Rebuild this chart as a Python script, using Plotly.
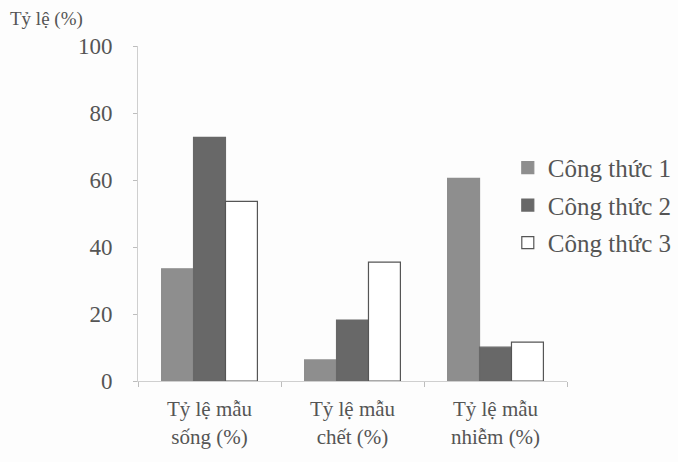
import plotly.graph_objects as go

# Categories (two-line labels) and series values, in %
categories = ["Tỷ lệ mẫu<br>sống (%)", "Tỷ lệ mẫu<br>chết (%)", "Tỷ lệ mẫu<br>nhiễm (%)"]
series_names = ["Công thức 1", "Công thức 2", "Công thức 3"]
cong_thuc_1 = [33.5, 6.3, 60.5]
cong_thuc_2 = [72.7, 18.2, 10.1]
cong_thuc_3 = [53.6, 35.5, 11.6]
y_ticks = [0, 20, 40, 60, 80, 100]

fills = ["#8e8e8e", "#686868", "#ffffff"]
outlines = ["#8e8e8e", "#686868", "#555555"]
text_color = "#555555"
serif = "Liberation Serif, Times New Roman, serif"

fig = go.Figure()
for i, (name, vals) in enumerate(zip(series_names, [cong_thuc_1, cong_thuc_2, cong_thuc_3])):
    fig.add_trace(go.Bar(
        x=categories, y=vals, name=name,
        legendgroup=f"g{i}",
        marker=dict(color=fills[i], line=dict(color=outlines[i], width=1.2)),
    ))

fig.update_layout(
    width=678, height=462,
    margin=dict(l=138, r=111, t=46, b=81, autoexpand=False),
    paper_bgcolor="#fdfdfd", plot_bgcolor="#fdfdfd",
    barmode="group", bargap=0.33, bargroupgap=0,
    font=dict(family=serif, size=20, color=text_color),
    showlegend=True,
    legend=dict(
        x=0.862, y=0.705, xanchor="left", yanchor="top",
        bgcolor="rgba(0,0,0,0)", tracegroupgap=2,
        font=dict(family=serif, size=25, color=text_color),
    ),
    xaxis=dict(
        showline=True, linecolor="#cfcfcf", linewidth=1,
        ticks="outside", tickson="boundaries", ticklen=5, tickcolor="#bdbdbd",
        ticklabelstandoff=9,
        tickfont=dict(family=serif, size=21, color=text_color),
        showgrid=False,
    ),
    yaxis=dict(
        range=[0, 100], tickvals=y_ticks,
        showline=True, linecolor="#cfcfcf", linewidth=1,
        ticks="outside", ticklen=4, tickcolor="#bdbdbd",
        ticklabelstandoff=16,
        tickfont=dict(family=serif, size=23, color=text_color),
        showgrid=False, zeroline=False,
    ),
    annotations=[dict(
        text="Tỷ lệ (%)", xref="paper", yref="paper",
        x=-0.303, y=1.08, xanchor="left", yanchor="middle", showarrow=False,
        font=dict(family=serif, size=19, color=text_color),
    )],
)

fig.write_html("out.html")
